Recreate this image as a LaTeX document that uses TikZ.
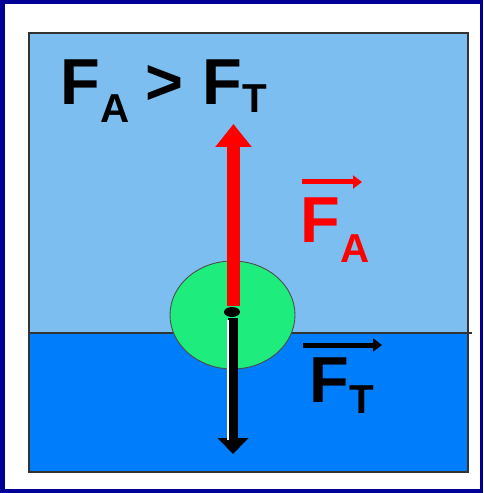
\documentclass[tikz,border=0pt]{standalone}
\usepackage{fontspec}
\setmainfont{Liberation Sans}
\usetikzlibrary{arrows.meta,shapes.geometric}

\definecolor{navy}{RGB}{0,0,150}
\definecolor{airblue}{RGB}{125,190,240}
\definecolor{waterblue}{RGB}{0,125,250}
\definecolor{ballgreen}{RGB}{30,236,125}

% raised / lowered subscript letter
\newcommand{\subtxt}[2]{\raisebox{#1}{\fontsize{23}{23}\selectfont #2}}

\begin{document}
\begin{tikzpicture}[
    x=0.02cm, y=-0.02cm,
    lbl/.style={anchor=base west, inner sep=0pt, font=\fontsize{37}{37}\selectfont\bfseries},
    ball/.style={draw=black!70, ellipse, fill=ballgreen, line width=0.5pt, minimum width=125*0.02cm, minimum height=108*0.02cm, inner sep=0pt},
    force_up/.style={red, line width=13*0.02cm, -{Triangle[width=35*0.02cm, length=23*0.02cm]}},
    force_down/.style={black, line width=10*0.02cm, -{Triangle[width=30*0.02cm, length=16*0.02cm]}},
    vecbar/.style={line width=5*0.02cm, -{Triangle[width=13*0.02cm, length=9*0.02cm]}}
]

    % Frame and background
    \fill[navy] (0,0) rectangle (483,493);
    \fill[white] (5,4) rectangle (480,489);
    \fill[airblue] (29,33) rectangle (468,333);
    \fill[waterblue] (29,333) rectangle (468,472);
    \draw[black!80, line width=1.2pt] (29,33) rectangle (468,472);
    \draw[black!80, line width=0.8pt] (29,333) -- (472,333);

    % Floating ball
    \node[ball] (ball) at (232.5,315) {};

    % Force arrows
    \coordinate (upstart) at (233.5,306);
    \coordinate (uptip) at (233.5,124);
    \coordinate (downstart) at (233,318);
    \coordinate (downtip) at (233,454);
    \draw[force_up] (upstart) -- (uptip);
    \draw[force_down] (downstart) -- (downtip);
    \draw[white, line width=0.9pt] (227.8,320) -- (227.8,440);
    \fill[black] (232,312) ellipse [x radius=8, y radius=5];

    % Labels
    \node[lbl] (cmp) at (60,105) {F\subtxt{-9.7pt}{A}\kern9pt>\kern11pt F\subtxt{-4pt}{T}};
    \node[lbl, red] (fa) at (300,242) {F\subtxt{-11.4pt}{A}};
    \node[lbl] (ft) at (309,402) {F\subtxt{-6.3pt}{T}};

    % Vector bars over labels
    \coordinate (fabar1) at (302,182);
    \coordinate (fabar2) at (362,182);
    \coordinate (ftbar1) at (303,345);
    \coordinate (ftbar2) at (382,345);
    \draw[vecbar, red] (fabar1) -- (fabar2);
    \draw[vecbar, black] (ftbar1) -- (ftbar2);

\end{tikzpicture}
\end{document}
